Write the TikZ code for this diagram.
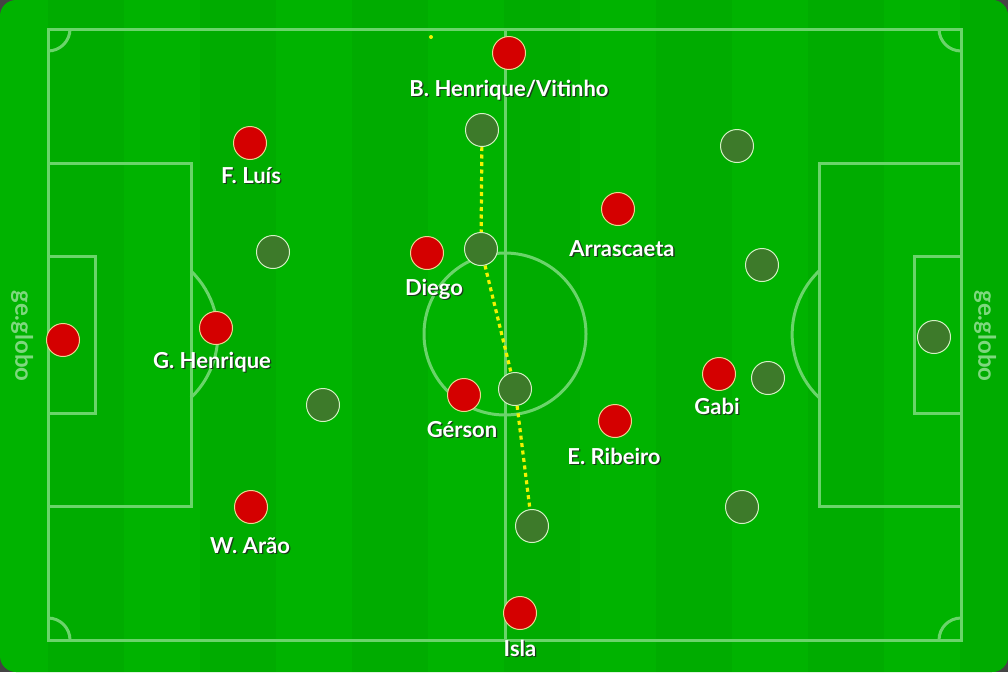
\documentclass[tikz,border=0pt]{standalone}
\usepackage{fontspec}
\setmainfont{Lato}
\definecolor{outer}{HTML}{444444}
\definecolor{grassA}{HTML}{00B300}
\definecolor{grassB}{HTML}{00AC00}
\definecolor{linecol}{HTML}{6AD46A}
\definecolor{pred}{HTML}{D40000}
\definecolor{predb}{HTML}{E8D890}
\definecolor{pdark}{HTML}{3D7A2A}
\definecolor{pdarkb}{HTML}{D4F2C4}
\definecolor{ylw}{HTML}{F2F200}
\definecolor{gecol}{HTML}{7ED87E}
\definecolor{shcol}{HTML}{1C3A1C}
\newcommand\shtxt[1]{\makebox[0pt][l]{\hspace*{1.3pt}\raisebox{-1.5pt}{\color{shcol}#1}}#1}
\begin{document}
\begin{tikzpicture}[x=1pt,y=-1pt,
  fieldline/.style={draw=linecol, line width=3pt},
  redp/.style={circle, fill=pred, draw=predb, line width=1pt, minimum size=33pt, inner sep=0pt},
  darkp/.style={circle, fill=pdark, draw=pdarkb, line width=1pt, minimum size=33pt, inner sep=0pt},
  lbl/.style={anchor=base, text=white, inner sep=0pt, font=\fontsize{22}{24}\selectfont\bfseries},
  brand/.style={rotate=-90, text=gecol, inner sep=0pt, font=\fontsize{24}{24}\selectfont\bfseries},
  yline/.style={draw=ylw, line width=3.2pt, dash pattern=on 4pt off 3.5pt}
]
\useasboundingbox (0,0) rectangle (1008,672);
\fill[outer] (0,0) rectangle (1008,672);
\fill[grassA, rounded corners=16pt] (0,0) rectangle (1008,672);
% subtle stripes
\begin{scope}
\clip[rounded corners=16pt] (0,0) rectangle (1008,672);
\foreach \i in {0,2,4,6,8,10,12} {
  \fill[grassB] ({48+\i*76},0) rectangle ({48+(\i+1)*76},672);
}
\end{scope}
% pitch markings
\draw[fieldline] (48,29) rectangle (961,640);
\draw[fieldline] (505,29) -- (505,640);
\draw[fieldline] (505,334) circle[radius=81];
\draw[fieldline] (48,163) rectangle (191,506);
\draw[fieldline] (48,256) rectangle (95,413);
\draw[fieldline] (961,163) -- (819,163) -- (819,506) -- (961,506);
\draw[fieldline] (961,256) -- (914,256) -- (914,413) -- (961,413);
\draw[fieldline] (191,271) arc[start angle=-46, end angle=46, radius=88];
\draw[fieldline] (819,271) arc[start angle=226, end angle=134, radius=88];
% corner arcs
\draw[fieldline] (70,29) arc[start angle=0, end angle=90, radius=22];
\draw[fieldline] (48,618) arc[start angle=-90, end angle=0, radius=22];
\draw[fieldline] (939,29) arc[start angle=180, end angle=90, radius=22];
\draw[fieldline] (961,618) arc[start angle=270, end angle=180, radius=22];
% branding
\node[brand] (geL) at (22,336) {ge.globo};
\node[brand] (geR) at (985,336) {ge.globo};
% yellow dot
\node[circle, fill=ylw, inner sep=0pt, minimum size=4pt] (ydot) at (431,37) {};
% red players
\node[redp] (r1) at (509,53) {};
\node[redp] (r2) at (250,143) {};
\node[redp] (r3) at (618,209) {};
\node[redp] (r4) at (427,253) {};
\node[redp] (r5) at (63,340) {};
\node[redp] (r6) at (216,328) {};
\node[redp] (r7) at (719,374) {};
\node[redp] (r8) at (464,395) {};
\node[redp] (r9) at (615,421) {};
\node[redp] (r10) at (251,507) {};
\node[redp] (r11) at (520,613) {};
% dark players
\node[darkp] (d1) at (482,130) {};
\node[darkp] (d2) at (737,146) {};
\node[darkp] (d3) at (273,252) {};
\node[darkp] (d4) at (481,249) {};
\node[darkp] (d5) at (762,265) {};
\node[darkp] (d6) at (934,337) {};
\node[darkp] (d7) at (768,378) {};
\node[darkp] (d8) at (515,389) {};
\node[darkp] (d9) at (323,405) {};
\node[darkp] (d10) at (742,507) {};
\node[darkp] (d11) at (532,526) {};
% yellow dotted line
\draw[yline] (d1) -- (d4);
\draw[yline] (d4) -- (d8);
\draw[yline] (d8) -- (d11);
% labels
\node[lbl] (t1) at (509,96) {\shtxt{B. Henrique/Vitinho}};
\node[lbl] (t2) at (251,183) {\shtxt{F. Luís}};
\node[lbl] (t3) at (622,256) {\shtxt{Arrascaeta}};
\node[lbl] (t4) at (434,295) {\shtxt{Diego}};
\node[lbl] (t5) at (212,368) {\shtxt{G. Henrique}};
\node[lbl] (t6) at (717,414) {\shtxt{Gabi}};
\node[lbl] (t7) at (462,437) {\shtxt{Gérson}};
\node[lbl] (t8) at (614,464) {\shtxt{E. Ribeiro}};
\node[lbl] (t9) at (250,553) {\shtxt{W. Arão}};
\node[lbl] (t10) at (520,656) {\shtxt{Isla}};
\end{tikzpicture}
\end{document}
